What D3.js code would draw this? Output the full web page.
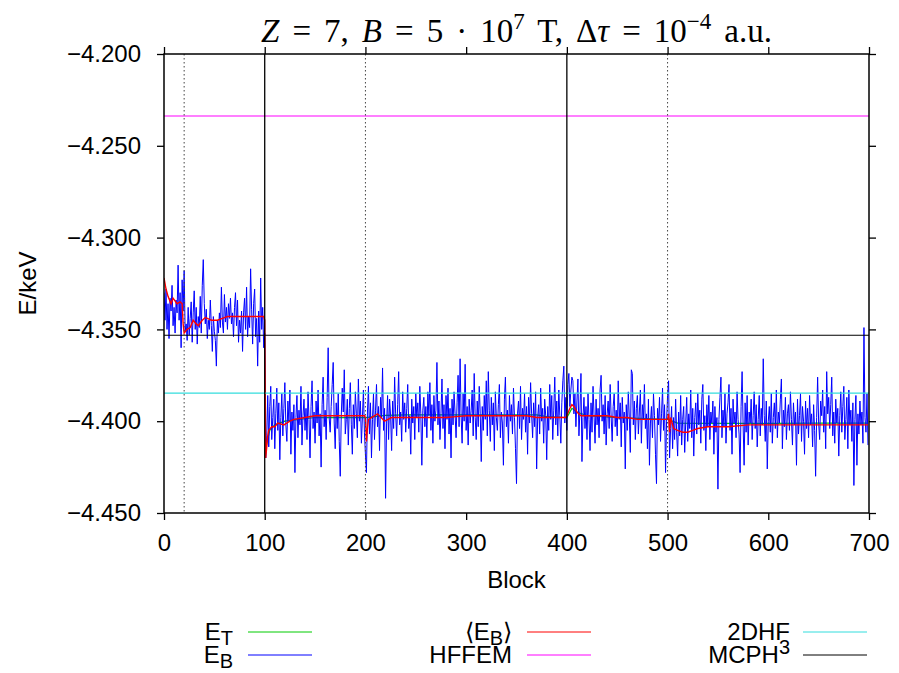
<!DOCTYPE html>
<html>
<head>
  <meta charset="UTF-8">
  <title>DMC energy per block</title>
  <script src="https://d3js.org/d3.v7.min.js"></script>
  <style>
    body { margin: 0; background: #fff; font-family: "Liberation Sans", Arial, sans-serif; }
    .tick text { font-family: "Liberation Sans", Arial, sans-serif; font-size: 24px; fill: #000; }
    .tick line { stroke: #000; stroke-width: 1.3; }
    .axis path { display: none; }
  </style>
</head>
<body>
  <div id="chart"></div>
  <script>
    // E_B : block energy (keV), one value per block 0..699
    const blockEnergy = [
      -4.330,-4.345,-4.328,-4.350,-4.336,-4.355,-4.333,-4.340,-4.326,-4.348,
      -4.338,-4.352,-4.334,-4.341,-4.315,-4.345,-4.330,-4.360,-4.323,-4.340,
      -4.318,-4.351,-4.347,-4.356,-4.338,-4.353,-4.344,-4.335,-4.357,-4.341,
      -4.329,-4.350,-4.338,-4.358,-4.343,-4.349,-4.332,-4.352,-4.326,-4.312,
      -4.336,-4.347,-4.339,-4.355,-4.345,-4.350,-4.334,-4.348,-4.362,-4.343,
      -4.351,-4.356,-4.370,-4.345,-4.352,-4.341,-4.349,-4.327,-4.346,-4.352,
      -4.331,-4.346,-4.338,-4.350,-4.336,-4.344,-4.333,-4.347,-4.341,-4.354,
      -4.338,-4.330,-4.348,-4.334,-4.357,-4.345,-4.352,-4.340,-4.362,-4.341,
      -4.333,-4.350,-4.327,-4.354,-4.343,-4.349,-4.317,-4.339,-4.358,-4.336,
      -4.328,-4.354,-4.344,-4.370,-4.340,-4.357,-4.322,-4.350,-4.338,-4.360,
      -4.352,
      -4.420,-4.408,-4.386,-4.414,-4.392,-4.381,-4.410,-4.398,-4.388,-4.415,
      -4.396,-4.382,-4.405,-4.390,-4.421,-4.398,-4.385,-4.408,-4.393,-4.379,
      -4.402,-4.411,-4.389,-4.400,-4.383,-4.418,-4.395,-4.405,-4.391,-4.428,
      -4.398,-4.386,-4.409,-4.394,-4.402,-4.381,-4.413,-4.397,-4.388,-4.405,
      -4.393,-4.410,-4.384,-4.399,-4.420,-4.392,-4.378,-4.404,-4.395,-4.412,
      -4.389,-4.401,-4.383,-4.408,-4.396,-4.425,-4.391,-4.376,-4.403,-4.394,
      -4.410,-4.387,-4.360,-4.398,-4.406,-4.392,-4.380,-4.368,-4.401,-4.415,
      -4.390,-4.404,-4.385,-4.411,-4.430,-4.397,-4.382,-4.395,-4.372,-4.407,
      -4.399,-4.388,-4.413,-4.393,-4.379,-4.402,-4.418,-4.391,-4.404,-4.384,
      -4.396,-4.409,-4.377,-4.400,-4.389,-4.412,-4.398,-4.383,-4.406,-4.418,
      -4.428,-4.395,-4.381,-4.407,-4.390,-4.420,-4.399,-4.385,-4.410,-4.394,
      -4.380,-4.403,-4.392,-4.416,-4.387,-4.398,-4.371,-4.405,-4.393,-4.442,
      -4.401,-4.386,-4.410,-4.388,-4.397,-4.416,-4.389,-4.404,-4.376,-4.396,
      -4.408,-4.391,-4.373,-4.402,-4.395,-4.411,-4.384,-4.399,-4.390,-4.406,
      -4.393,-4.380,-4.404,-4.397,-4.418,-4.388,-4.401,-4.392,-4.410,-4.385,
      -4.398,-4.390,-4.406,-4.381,-4.396,-4.424,-4.394,-4.387,-4.403,-4.392,
      -4.409,-4.384,-4.397,-4.379,-4.405,-4.391,-4.412,-4.386,-4.400,-4.394,
      -4.368,-4.402,-4.389,-4.410,-4.396,-4.377,-4.404,-4.391,-4.415,-4.386,
      -4.399,-4.382,-4.407,-4.393,-4.420,-4.388,-4.402,-4.384,-4.396,-4.409,
      -4.390,-4.375,-4.403,-4.366,-4.397,-4.412,-4.385,-4.400,-4.369,-4.405,
      -4.392,-4.413,-4.388,-4.401,-4.394,-4.383,-4.408,-4.374,-4.398,-4.410,
      -4.389,-4.403,-4.381,-4.396,-4.422,-4.392,-4.405,-4.386,-4.399,-4.378,
      -4.408,-4.373,-4.394,-4.411,-4.387,-4.402,-4.390,-4.416,-4.384,-4.398,
      -4.405,-4.391,-4.380,-4.409,-4.395,-4.401,-4.424,-4.388,-4.376,-4.403,
      -4.394,-4.412,-4.386,-4.400,-4.391,-4.407,-4.382,-4.398,-4.415,-4.434,
      -4.396,-4.389,-4.404,-4.381,-4.410,-4.393,-4.399,-4.385,-4.406,-4.392,
      -4.418,-4.387,-4.401,-4.379,-4.396,-4.409,-4.390,-4.403,-4.384,-4.426,
      -4.398,-4.391,-4.407,-4.382,-4.400,-4.393,-4.412,-4.388,-4.397,-4.421,
      -4.392,-4.405,-4.380,-4.399,-4.386,-4.410,-4.394,-4.376,-4.402,-4.389,
      -4.408,-4.383,-4.397,-4.412,-4.390,-4.378,-4.370,-4.401,-4.387,-4.405,
      -4.380,-4.374,-4.392,-4.383,-4.376,-4.378,-4.396,-4.385,-4.403,-4.389,
      -4.377,-4.408,-4.394,-4.374,-4.422,-4.398,-4.387,-4.404,-4.392,-4.410,
      -4.385,-4.399,-4.416,-4.390,-4.406,-4.381,-4.397,-4.412,-4.388,-4.402,
      -4.393,-4.409,-4.383,-4.375,-4.400,-4.391,-4.407,-4.386,-4.413,-4.396,
      -4.389,-4.404,-4.380,-4.398,-4.411,-4.392,-4.385,-4.403,-4.394,-4.408,
      -4.378,-4.399,-4.390,-4.414,-4.387,-4.401,-4.395,-4.426,-4.391,-4.405,
      -4.384,-4.398,-4.417,-4.372,-4.374,-4.402,-4.389,-4.410,-4.393,-4.386,
      -4.407,-4.395,-4.383,-4.412,-4.391,-4.399,-4.380,-4.404,-4.396,-4.415,
      -4.388,-4.424,-4.401,-4.392,-4.409,-4.385,-4.397,-4.418,-4.434,-4.393,
      -4.402,-4.387,-4.411,-4.396,-4.382,-4.405,-4.391,-4.428,-4.400,-4.386,
      -4.378,-4.420,-4.404,-4.392,-4.415,-4.398,-4.410,-4.388,-4.406,-4.419,
      -4.395,-4.408,-4.386,-4.413,-4.399,-4.392,-4.417,-4.401,-4.387,-4.411,
      -4.396,-4.404,-4.383,-4.409,-4.393,-4.419,-4.398,-4.390,-4.407,-4.385,
      -4.402,-4.394,-4.412,-4.388,-4.380,-4.405,-4.397,-4.416,-4.391,-4.403,
      -4.386,-4.410,-4.395,-4.401,-4.389,-4.418,-4.392,-4.406,-4.398,-4.437,
      -4.399,-4.387,-4.376,-4.409,-4.394,-4.403,-4.385,-4.412,-4.396,-4.390,
      -4.380,-4.405,-4.393,-4.418,-4.388,-4.401,-4.395,-4.409,-4.384,-4.399,
      -4.407,-4.428,-4.392,-4.373,-4.402,-4.424,-4.390,-4.406,-4.386,-4.413,
      -4.395,-4.401,-4.388,-4.410,-4.397,-4.384,-4.404,-4.391,-4.414,-4.399,
      -4.386,-4.408,-4.393,-4.402,-4.366,-4.397,-4.411,-4.389,-4.426,-4.400,
      -4.392,-4.406,-4.385,-4.412,-4.398,-4.390,-4.404,-4.383,-4.409,-4.395,
      -4.401,-4.388,-4.377,-4.415,-4.394,-4.403,-4.387,-4.410,-4.396,-4.391,
      -4.405,-4.384,-4.399,-4.413,-4.390,-4.402,-4.395,-4.424,-4.388,-4.407,
      -4.397,-4.385,-4.411,-4.392,-4.400,-4.418,-4.389,-4.404,-4.393,-4.409,
      -4.386,-4.402,-4.396,-4.414,-4.391,-4.405,-4.430,-4.398,-4.376,-4.401,
      -4.410,-4.389,-4.397,-4.383,-4.406,-4.392,-4.415,-4.373,-4.396,-4.387,
      -4.404,-4.391,-4.376,-4.408,-4.395,-4.412,-4.388,-4.401,-4.393,-4.419,
      -4.397,-4.384,-4.406,-4.392,-4.381,-4.410,-4.399,-4.387,-4.415,-4.383,
      -4.402,-4.394,-4.411,-4.390,-4.435,-4.399,-4.386,-4.424,-4.396,-4.407,
      -4.389,-4.402,-4.395,-4.412,-4.349,-4.398,-4.406,-4.385,-4.413
    ];

    // <E_B> : running average (keV)
    const avgBlocks = [0,2,4,7,9,13,16,18,19,20,23,26,29,32,34,38,41,47,53,58,63,70,76,85,92,99,100,
      101,102,103,104,107,110,113,119,125,129,140,150,160,170,180,190,199,200,201,202,203,206,212,219,
      226,236,250,260,270,280,290,300,320,340,360,370,380,399,400,403,405,407,410,414,420,430,440,450,
      460,470,480,490,499,500,501,502,503,506,510,515,520,525,530,540,550,560,580,600,620,640,660,680,699];
    const avgEnergy = [-4.322,-4.328,-4.332,-4.336,-4.333,-4.336,-4.335,-4.336,-4.347,-4.352,-4.350,-4.349,-4.345,-4.347,-4.348,-4.345,-4.3435,-4.345,-4.345,-4.344,-4.343,-4.343,-4.343,-4.343,-4.343,-4.343,-4.345,
      -4.420,-4.414,-4.408,-4.405,-4.403,-4.403,-4.401,-4.402,-4.400,-4.399,-4.398,-4.397,-4.397,-4.397,-4.397,-4.397,-4.397,-4.398,-4.411,-4.404,-4.399,-4.398,-4.396,-4.400,
      -4.398,-4.398,-4.398,-4.398,-4.398,-4.398,-4.3975,-4.397,-4.397,-4.397,-4.397,-4.398,-4.398,-4.398,-4.397,-4.393,-4.391,-4.392,-4.395,-4.397,-4.397,-4.397,-4.397,-4.398,-4.398,
      -4.399,-4.399,-4.399,-4.399,-4.399,-4.396,-4.406,-4.398,-4.404,-4.405,-4.406,-4.406,-4.405,-4.404,-4.403,-4.403,-4.403,-4.402,-4.402,-4.402,-4.402,-4.402,-4.402,-4.402,-4.402];

    // E_T : trial energy (keV)
    const trialBlocks = [101,105,110,120,150,200,220,240,290,370,380,400,405,410,420,450,500,510,560,600,650,699];
    const trialEnergy = [-4.415,-4.405,-4.402,-4.400,-4.398,-4.398,-4.3968,-4.3966,-4.3966,-4.3966,-4.3975,-4.398,-4.393,-4.395,-4.397,-4.398,-4.399,-4.401,-4.4012,-4.4012,-4.4010,-4.4010];

    // reference energies (keV)
    const refNames = ["HFFEM", "2DHF", "MCPH3"];
    const refEnergy = [-4.2338, -4.3847, -4.3532];
    const refColors = ["#ff00ff", "#33dddd", "#000000"];

    const solidMarks = [100, 400];
    const dottedMarks = [20, 200, 500];

    const xTicks = [0, 100, 200, 300, 400, 500, 600, 700];
    const yTicks = [-4.45, -4.40, -4.35, -4.30, -4.25, -4.20];

    const W = 899, H = 673;
    const margin = { top: 54, right: 30, bottom: 160, left: 164 };
    const width = W - margin.left - margin.right;
    const height = H - margin.top - margin.bottom;
    const fontSize = 24;

    const svg = d3.select("#chart").append("svg")
      .attr("width", W).attr("height", H);

    const x = d3.scaleLinear().domain([0, 700]).range([0, width]);
    const y = d3.scaleLinear().domain([-4.45, -4.20]).range([height, 0]);

    const g = svg.append("g").attr("transform", `translate(${margin.left},${margin.top})`);

    g.append("clipPath").attr("id", "clip")
      .append("rect").attr("width", width).attr("height", height);

    // axes (ticks outward, mirrored)
    g.append("g").attr("class", "axis").attr("transform", `translate(0,${height})`)
      .call(d3.axisBottom(x).tickValues(xTicks).tickSize(7).tickSizeOuter(0).tickPadding(14).tickFormat(d3.format("d")));
    g.append("g").attr("class", "axis")
      .call(d3.axisTop(x).tickValues(xTicks).tickSize(7).tickSizeOuter(0).tickFormat(""));
    g.append("g").attr("class", "axis")
      .call(d3.axisLeft(y).tickValues(yTicks).tickSize(7).tickSizeOuter(0).tickPadding(16).tickFormat(d3.format(".3f")));
    g.append("g").attr("class", "axis").attr("transform", `translate(${width},0)`)
      .call(d3.axisRight(y).tickValues(yTicks).tickSize(7).tickSizeOuter(0).tickFormat(""));

    const plot = g.append("g").attr("clip-path", "url(#clip)");

    const line = d3.line().x(d => x(d[0])).y(d => y(d[1]));

    // E_T
    plot.append("path")
      .datum(trialBlocks.map((b, i) => [b, trialEnergy[i]]))
      .attr("d", line).attr("fill", "none").attr("stroke", "#00cc00").attr("stroke-width", 1.2);

    // E_B
    plot.append("path")
      .datum(blockEnergy.map((v, i) => [i, v]))
      .attr("d", line).attr("fill", "none").attr("stroke", "#0000ff").attr("stroke-width", 1);

    // <E_B>
    plot.append("path")
      .datum(avgBlocks.map((b, i) => [b, avgEnergy[i]]))
      .attr("d", line).attr("fill", "none").attr("stroke", "#ff0000").attr("stroke-width", 1.4);

    // reference lines
    refEnergy.forEach((v, i) => {
      plot.append("line")
        .attr("x1", 0).attr("x2", width)
        .attr("y1", y(v)).attr("y2", y(v))
        .attr("stroke", refColors[i]).attr("stroke-width", 1.1);
    });

    // block markers
    solidMarks.forEach(b => {
      plot.append("line").attr("x1", x(b)).attr("x2", x(b)).attr("y1", 0).attr("y2", height)
        .attr("stroke", "#000").attr("stroke-width", 1.3);
    });
    dottedMarks.forEach(b => {
      plot.append("line").attr("x1", x(b)).attr("x2", x(b)).attr("y1", 0).attr("y2", height)
        .attr("stroke", "#444").attr("stroke-width", 1).attr("stroke-dasharray", "1.5,2.5");
    });

    // border
    g.append("rect").attr("width", width).attr("height", height)
      .attr("fill", "none").attr("stroke", "#000").attr("stroke-width", 1.5);

    // title
    const title = svg.append("text")
      .attr("x", margin.left + width / 2).attr("y", 42)
      .attr("text-anchor", "middle")
      .style("font-family", "'Liberation Serif', 'DejaVu Serif', serif")
      .style("font-size", "33px");
    const parts = [
      ["Z", "i"], [" = 7, ", ""], ["B", "i"], [" = 5 · 10", ""], ["7", "sup"],
      [" T, Δ", ""], ["τ", "i"], [" = 10", ""], ["−4", "sup"], [" a.u.", ""]
    ];
    parts.forEach(([t, k]) => {
      const ts = title.append("tspan").text(t);
      if (k === "i") ts.style("font-style", "italic");
      if (k === "sup") ts.attr("dy", -13).style("font-size", "23px");
      if (t === " T, Δ" || t === " a.u.") ts.attr("dy", 13);
    });
    // widen word gaps a little so the title spans like the typeset original
    const tLen = title.node().getComputedTextLength();
    title.style("word-spacing", `${Math.min(6, Math.max(0, (511 - tLen) / 12))}px`);

    // axis labels
    svg.append("text")
      .attr("transform", `translate(36,${margin.top + height / 2}) rotate(-90)`)
      .attr("text-anchor", "middle")
      .style("font-size", fontSize + "px")
      .text("E/keV");
    svg.append("text")
      .attr("x", margin.left + width / 2).attr("y", 588)
      .attr("text-anchor", "middle")
      .style("font-size", fontSize + "px")
      .text("Block");

    // legend
    const legend = [
      { main: "E", sub: "T", color: "#00cc00", col: 0, row: 0 },
      { main: "E", sub: "B", color: "#0000ff", col: 0, row: 1 },
      { pre: "⟨E", sub: "B", post: "⟩", color: "#ff0000", col: 1, row: 0 },
      { main: "HFFEM", color: "#ff00ff", col: 1, row: 1 },
      { main: "2DHF", color: "#33dddd", col: 2, row: 0 },
      { main: "MCPH", sup: "3", color: "#000000", col: 2, row: 1 }
    ];
    const colText = [233, 512, 790];
    const colLine = [248, 527, 803];
    const rowY = [632, 655];
    legend.forEach(d => {
      const ty = rowY[d.row];
      const t = svg.append("text")
        .attr("x", colText[d.col]).attr("y", ty + 8)
        .attr("text-anchor", "end")
        .style("font-size", fontSize + "px");
      if (d.pre) {
        t.append("tspan").text(d.pre);
        t.append("tspan").attr("dy", 5).style("font-size", "20px").text(d.sub);
        t.append("tspan").attr("dy", -5).text(d.post);
      } else {
        t.append("tspan").text(d.main);
        if (d.sub) t.append("tspan").attr("dy", 5).style("font-size", "20px").text(d.sub);
        if (d.sup) t.append("tspan").attr("dy", -9).style("font-size", "20px").text(d.sup);
      }
      svg.append("line")
        .attr("x1", colLine[d.col]).attr("x2", colLine[d.col] + 64)
        .attr("y1", ty).attr("y2", ty)
        .attr("stroke", d.color).attr("stroke-width", 1);
    });
  </script>
</body>
</html>
